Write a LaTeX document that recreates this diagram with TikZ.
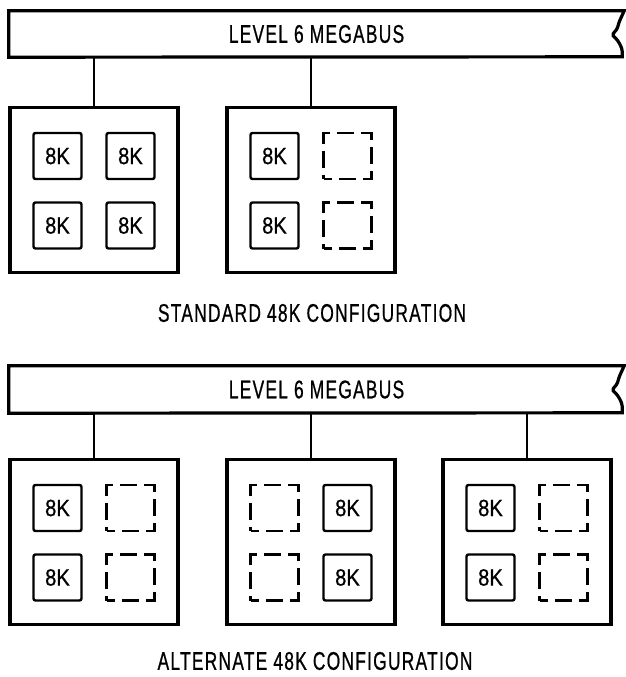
\documentclass[tikz,border=0pt]{standalone}
\usepackage{fontspec}
\setmainfont{Liberation Sans}[FakeStretch=0.68,LetterSpace=5,FakeBold=0.7]
\newfontfamily\chipfont{Liberation Sans}[FakeStretch=0.86,FakeBold=0.7]
\usetikzlibrary{positioning}

\begin{document}
\begin{tikzpicture}[x=1pt, y=-1pt,
  every node/.style={font=\fontsize{25.5}{30}\selectfont},
  bus/.style={minimum width=615pt, minimum height=46pt, inner sep=0pt},
  module/.style={draw, line width=3.2pt, minimum width=168pt, minimum height=165pt, inner sep=0pt},
  chip/.style={draw, line width=2.4pt, rounded corners=2pt, minimum width=48pt, minimum height=46pt,
    inner sep=0pt, font=\chipfont\fontsize{23.5}{27}\selectfont},
  slot/.style={draw, line width=2.4pt, dash pattern=on 17pt off 7pt, dash phase=8.5pt,
    minimum width=48pt, minimum height=46pt, inner sep=0pt},
  caption/.style={inner sep=0pt},
  link/.style={line width=2.2pt}]

  \useasboundingbox (0,0) rectangle (626,677);

  % Standard configuration
  \node[bus] (busA) at (316.5,34) {LEVEL 6 MEGABUS};
  \draw[line width=3.2pt] (busA.north east) [rounded corners=1.5pt] -- ++(-5,11) -- ++(-2,7) -- ++(-5,6)
    -- ++(5,5) -- ++(3,5) -- ++(2,5) [sharp corners] -- ++(0,7) -- (busA.south west) -- (busA.north west) -- cycle;

  \node[module] (sm1) at (94,190) {};
  \node[module] (sm2) at (311,190) {};
  \draw[link] (sm1.north) -- (sm1.north |- busA.south);
  \draw[link] (sm2.north) -- (sm2.north |- busA.south);

  \foreach \dx/\dy [count=\i] in {-36.5/-34, 36.5/-34, -36.5/35.5, 36.5/35.5}
    \node[chip] (sm1c\i) at ([shift={(\dx,\dy)}]sm1.center) {8K};
  \foreach \dy [count=\i] in {-34, 35.5} {
    \node[chip] (sm2c\i) at ([shift={(-36.5,\dy)}]sm2.center) {8K};
    \node[slot] (sm2s\i) at ([shift={(36.5,\dy)}]sm2.center) {};
  }

  \node[caption] (capA) at (312,313) {STANDARD 48K CONFIGURATION};

  % Alternate configuration
  \node[bus, minimum height=47pt] (busB) at (316.5,389.5) {LEVEL 6 MEGABUS};
  \draw[line width=3.2pt] (busB.north east) [rounded corners=1.5pt] -- ++(-5,11) -- ++(-2,7) -- ++(-5,6)
    -- ++(5,5) -- ++(3,5) -- ++(2,5) [sharp corners] -- ++(0,8) -- (busB.south west) -- (busB.north west) -- cycle;

  \foreach \m/\x/\cx/\sx in {am1/94/-36.5/36.5, am2/311/36.5/-36.5, am3/527/-36.5/36.5} {
    \node[module] (\m) at (\x,542) {};
    \draw[link] (\m.north) -- (\m.north |- busB.south);
    \foreach \dy [count=\i] in {-34, 35.5} {
      \node[chip] (\m c\i) at ([shift={(\cx,\dy)}]\m.center) {8K};
      \node[slot] (\m s\i) at ([shift={(\sx,\dy)}]\m.center) {};
    }
  }

  \node[caption] (capB) at (315,661) {ALTERNATE 48K CONFIGURATION};
\end{tikzpicture}
\end{document}
